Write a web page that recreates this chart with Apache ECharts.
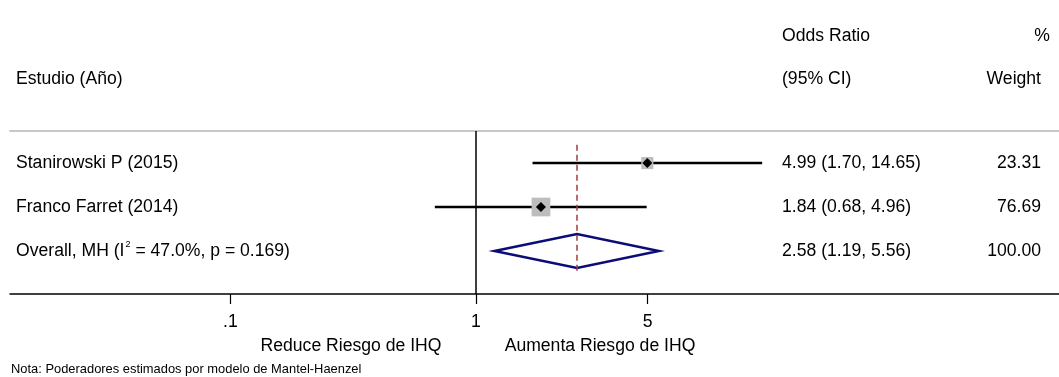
<!DOCTYPE html>
<html>
<head>
<meta charset="utf-8">
<script src="https://cdn.jsdelivr.net/npm/echarts@6/dist/echarts.min.js"></script>
<style>
  html, body { margin: 0; padding: 0; background: #fff; }
  #chart { width: 1059px; height: 377px; }
</style>
</head>
<body>
<div id="chart"></div>
<script>
// datos del forest plot
const studies = ['Stanirowski P (2015)', 'Franco Farret (2014)'];
const oddsRatio = [4.99, 1.84];
const ciLow = [1.70, 0.68];
const ciHigh = [14.65, 4.96];
const weights = [23.31, 76.69];
const rows = [3, 2];

const overallText = ['Overall, MH (I', '2', ' = 47.0%, p = 0.169)'];
const overallOR = [2.58];
const overallLow = [1.19];
const overallHigh = [5.56];
const overallWeight = [100.00];
const overallRow = 1;

const tickValues = [0.1, 1, 5];
const tickLabels = ['.1', '1', '5'];

const FONT = '"Liberation Sans", Arial, Helvetica, sans-serif';
const FS = 17.6;
const log = Math.log10;

const studyData = studies.map((s, i) => [log(oddsRatio[i]), log(ciLow[i]), log(ciHigh[i]), weights[i], rows[i], i]);
const overallData = [[log(overallOR[0]), log(overallLow[0]), log(overallHigh[0]), overallWeight[0], overallRow]];

function txt(x, y, text, align, size) {
  return {
    type: 'text', x: x, y: y, silent: true,
    style: { text: text, fill: '#000', fontSize: size || FS, fontFamily: FONT, align: align || 'left', verticalAlign: 'middle' }
  };
}

const myChart = echarts.init(document.getElementById('chart'));
const option = {
  animation: false,
  grid: { left: 10, right: 0, top: 131, bottom: 83 },
  xAxis: [
    {
      type: 'value',
      min: -1.898,
      max: 2.375,
      splitLine: { show: false },
      axisLine: { show: true, onZero: false, lineStyle: { color: '#000', width: 1.5 } },
      axisTick: { show: true, length: 10, lineStyle: { color: '#000', width: 1.2 }, customValues: tickValues.map(log) },
      axisLabel: {
        margin: 19,
        fontSize: FS,
        fontFamily: FONT,
        color: '#000',
        customValues: tickValues.map(log),
        formatter: function (v) {
          const i = tickValues.findIndex(t => Math.abs(log(t) - v) < 1e-6);
          return i >= 0 ? tickLabels[i] : '';
        }
      }
    },
    {
      type: 'value',
      position: 'top',
      min: -1.898,
      max: 2.375,
      splitLine: { show: false },
      axisLine: { show: true, lineStyle: { color: '#c8c8c8', width: 2 } },
      axisTick: { show: false },
      axisLabel: { show: false }
    }
  ],
  yAxis: {
    type: 'value',
    min: 0.02,
    max: 3.73,
    show: false
  },
  series: [
    {
      name: 'estudios',
      type: 'custom',
      clip: false,
      data: studyData,
      renderItem: function (params, api) {
        const i = api.value(5);
        const y = api.value(4);
        const c = api.coord([api.value(0), y]);
        const lo = api.coord([api.value(1), y]);
        const hi = api.coord([api.value(2), y]);
        const side = 4 + 1.68 * Math.sqrt(api.value(3));
        const d = 5;
        return {
          type: 'group',
          children: [
            { type: 'line', shape: { x1: lo[0], y1: lo[1], x2: hi[0], y2: hi[1] }, style: { stroke: '#000', lineWidth: 2.4 } },
            { type: 'rect', shape: { x: c[0] - side / 2, y: c[1] - side / 2, width: side, height: side }, style: { fill: '#bdbdbd' } },
            { type: 'polygon', shape: { points: [[c[0] - d, c[1]], [c[0], c[1] - d], [c[0] + d, c[1]], [c[0], c[1] + d]] }, style: { fill: '#000' } },
            txt(16, c[1], studies[i]),
            txt(782, c[1], oddsRatio[i].toFixed(2) + ' (' + ciLow[i].toFixed(2) + ', ' + ciHigh[i].toFixed(2) + ')'),
            txt(1041, c[1], weights[i].toFixed(2), 'right')
          ]
        };
      }
    },
    {
      name: 'overall',
      type: 'custom',
      clip: false,
      data: overallData,
      renderItem: function (params, api) {
        const y = api.value(4);
        const c = api.coord([api.value(0), y]);
        const lo = api.coord([api.value(1), y]);
        const hi = api.coord([api.value(2), y]);
        const h = 17;
        return {
          type: 'group',
          children: [
            {
              type: 'polygon',
              shape: { points: [[lo[0], c[1]], [c[0], c[1] - h], [hi[0], c[1]], [c[0], c[1] + h]] },
              style: { fill: 'none', stroke: '#0c0c78', lineWidth: 2.5 }
            },
            {
              type: 'text', x: 16, y: c[1], silent: true,
              style: {
                text: '{a|' + overallText[0] + '}{s|' + overallText[1] + '}{a|' + overallText[2] + '}',
                verticalAlign: 'middle',
                rich: {
                  a: { fontSize: FS, fontFamily: FONT, fill: '#000', color: '#000' },
                  s: { fontSize: 9, fontFamily: FONT, fill: '#000', color: '#000', verticalAlign: 'top', padding: [0, 0, 12, 1] }
                }
              }
            },
            txt(782, c[1], overallOR[0].toFixed(2) + ' (' + overallLow[0].toFixed(2) + ', ' + overallHigh[0].toFixed(2) + ')'),
            txt(1041, c[1], overallWeight[0].toFixed(2), 'right')
          ]
        };
      },
      markLine: {
        silent: true,
        symbol: 'none',
        label: { show: false },
        data: [
          { xAxis: 0, lineStyle: { color: '#000', width: 1.5, type: 'solid' } },
          [
            { coord: [log(overallOR[0]), 0.55], lineStyle: { color: '#a33a3a', width: 1.5, type: [6, 4] } },
            { coord: [log(overallOR[0]), 3.45] }
          ]
        ]
      }
    }
  ],
  graphic: [
    txt(782, 36, 'Odds Ratio'),
    txt(1050, 36, '%', 'right'),
    txt(16, 79, 'Estudio (Año)'),
    txt(782, 79, '(95% CI)'),
    txt(1041, 79, 'Weight', 'right'),
    txt(351, 346, 'Reduce Riesgo de IHQ', 'center'),
    txt(600, 346, 'Aumenta Riesgo de IHQ', 'center'),
    txt(11, 369, 'Nota: Poderadores estimados por modelo de Mantel-Haenzel', 'left', 12.9)
  ]
};
myChart.setOption(option);
</script>
</body>
</html>
